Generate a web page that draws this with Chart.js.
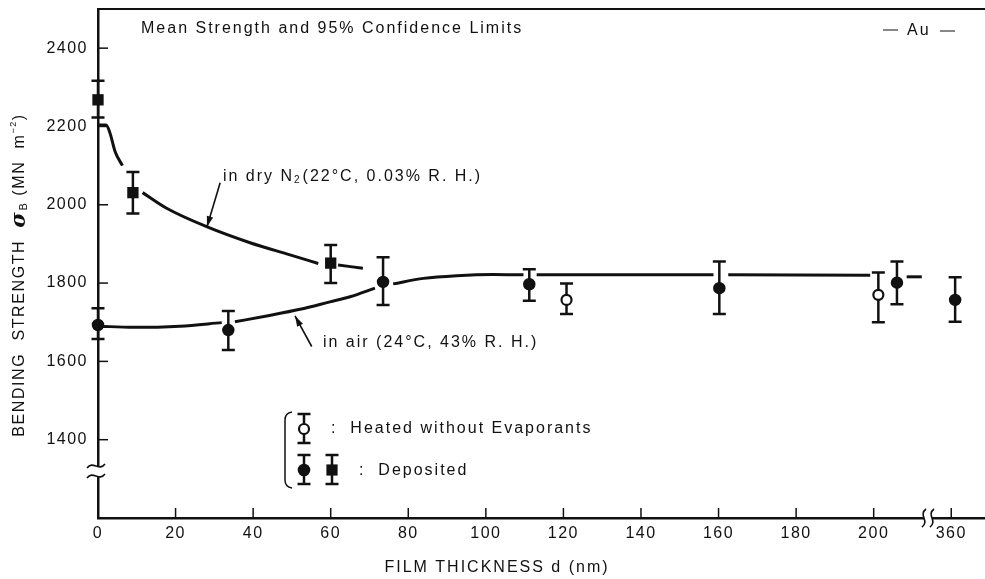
<!DOCTYPE html>
<html>
<head>
<meta charset="utf-8">
<style>
  html, body { margin: 0; padding: 0; background: #fff; }
</style>
<script src="https://cdn.jsdelivr.net/npm/chart.js@4/dist/chart.umd.min.js"></script>
</head>
<body>
<canvas id="chart" width="985" height="579"></canvas>
<script>
// film thickness axis: 0..200 then a break, and 360 sits where 220 would be
const xTickValues = [0, 20, 40, 60, 80, 100, 120, 140, 160, 180, 200, 360];
const yTickValues = [1400, 1600, 1800, 2000, 2200, 2400];

// deposited, in dry N2 (squares)
const n2X = [0, 9, 60];
const n2Y = [2268, 2031, 1851];
const n2Lo = [2223, 1978, 1800];
const n2Hi = [2317, 2084, 1897];

// deposited, in air (filled circles)
const airX = [0, 33.6, 73.5, 111.2, 160.2, 206, 361];
const airY = [1693, 1680, 1803, 1797, 1787, 1801, 1757];
const airLo = [1657, 1629, 1744, 1755, 1721, 1746, 1701];
const airHi = [1736, 1729, 1866, 1835, 1855, 1855, 1815];

// heated without evaporants (open circles)
const heatX = [120.8, 201.2];
const heatY = [1757, 1770];
const heatLo = [1721, 1700];
const heatHi = [1799, 1827];

// hand drawn trend curves, one list per drawn piece
const n2CurveX = [[0, 2.1, 3.1, 4.4, 6.3], [11.5, 17.7, 28.0, 39.2, 49.5, 56.8], [61.9, 68.3]];
const n2CurveY = [[2204, 2204, 2183, 2136, 2100], [2031, 1991, 1944, 1903, 1872, 1850], [1846, 1838]];
const airCurveX = [[0, 9.0, 21.1, 31.9], [35.3, 43.5, 52.1, 59.8, 65.0, 71.4], [76.1, 83.9, 92.5, 101.9, 109.7], [113.1, 158.7], [162.5, 199.1], [208.5, 212.4]];
const airCurveY = [[1690, 1687, 1690, 1699], [1701, 1716, 1733, 1752, 1765, 1787], [1798, 1812, 1819, 1822, 1821], [1821, 1821], [1821, 1820], [1816, 1816]];

// label arrows: [tailX, tailY, headX, headY]
const n2Arrow = [31.5, 2056, 28.1, 1944];
const airArrow = [55.1, 1638, 50.8, 1716];

const INK = '#111';
const FONT = '"Liberation Sans", Arial, sans-serif';

function pos(x) { return x > 300 ? x - 140 : x; }

function pts(xs, ys) { return xs.map((x, i) => ({ x: pos(x), y: ys[i] })); }

const datasets = [];
n2CurveX.forEach((xs, i) => datasets.push({
    type: 'line', data: pts(xs, n2CurveY[i]), borderColor: INK, borderWidth: 3,
    pointRadius: 0, cubicInterpolationMode: 'monotone', fill: false, clip: false
}));
airCurveX.forEach((xs, i) => datasets.push({
    type: 'line', data: pts(xs, airCurveY[i]), borderColor: INK, borderWidth: 3,
    pointRadius: 0, cubicInterpolationMode: 'monotone', fill: false, clip: false
}));
datasets.push({ label: 'n2', data: pts(n2X, n2Y), pointStyle: 'rect', pointRadius: 8, backgroundColor: INK, borderColor: INK, borderWidth: 0, clip: false, lo: n2Lo, hi: n2Hi });
datasets.push({ label: 'air', data: pts(airX, airY), pointStyle: 'circle', pointRadius: 5.5, backgroundColor: INK, borderColor: INK, borderWidth: 1.5, clip: false, lo: airLo, hi: airHi });
datasets.push({ label: 'heat', data: pts(heatX, heatY), pointStyle: 'circle', pointRadius: 5, backgroundColor: '#fff', borderColor: INK, borderWidth: 2.2, clip: false, lo: heatLo, hi: heatHi });

function errorBar(ctx, x, y1, y2, cap) {
    ctx.beginPath();
    ctx.moveTo(x, y1); ctx.lineTo(x, y2);
    ctx.moveTo(x - cap, y1); ctx.lineTo(x + cap, y1);
    ctx.moveTo(x - cap, y2); ctx.lineTo(x + cap, y2);
    ctx.stroke();
}

function arrow(ctx, x1, y1, x2, y2) {
    ctx.beginPath(); ctx.moveTo(x1, y1); ctx.lineTo(x2, y2); ctx.stroke();
    const a = Math.atan2(y2 - y1, x2 - x1), L = 11, w = 0.3;
    ctx.beginPath();
    ctx.moveTo(x2, y2);
    ctx.lineTo(x2 - L * Math.cos(a - w), y2 - L * Math.sin(a - w));
    ctx.lineTo(x2 - L * Math.cos(a + w), y2 - L * Math.sin(a + w));
    ctx.closePath(); ctx.fill();
}

const paper = {
    id: 'paper',
    beforeDraw(chart) {
        chart.ctx.letterSpacing = '1.5px';
    },
    beforeDatasetsDraw(chart) {
        const { ctx, scales: { x, y } } = chart;
        ctx.save();
        ctx.strokeStyle = INK; ctx.lineWidth = 2.5;
        chart.data.datasets.forEach(ds => {
            if (!ds.lo) return;
            ds.data.forEach((p, i) => {
                errorBar(ctx, x.getPixelForValue(p.x), y.getPixelForValue(ds.hi[i]), y.getPixelForValue(ds.lo[i]), 6.5);
            });
        });
        ctx.restore();
    },
    afterDraw(chart) {
        const { ctx, chartArea: a, scales: { x, y } } = chart;
        ctx.save();
        ctx.strokeStyle = INK; ctx.fillStyle = INK;

        // top frame line
        ctx.lineWidth = 2;
        ctx.beginPath(); ctx.moveTo(a.left, a.top); ctx.lineTo(a.right, a.top); ctx.stroke();

        // inward ticks
        ctx.lineWidth = 1.5;
        xTickValues.forEach(v => {
            if (v === 0) return;
            const px = x.getPixelForValue(pos(v));
            ctx.beginPath(); ctx.moveTo(px, a.bottom); ctx.lineTo(px, a.bottom - 10); ctx.stroke();
        });
        yTickValues.forEach(v => {
            const py = y.getPixelForValue(v);
            ctx.beginPath(); ctx.moveTo(a.left, py); ctx.lineTo(a.left + 10, py); ctx.stroke();
        });

        // y axis break
        const by = y.getPixelForValue(1320);
        ctx.fillStyle = '#fff';
        ctx.fillRect(a.left - 3, by - 5, 6, 10);
        ctx.fillStyle = INK;
        ctx.lineWidth = 1.6;
        [-5, 5].forEach(d => {
            ctx.beginPath();
            ctx.moveTo(a.left - 11, by + d + 2);
            ctx.bezierCurveTo(a.left - 5, by + d - 6, a.left + 1, by + d + 6, a.left + 7, by + d - 2);
            ctx.stroke();
        });

        // x axis break
        const bx = x.getPixelForValue(214);
        ctx.fillStyle = '#fff';
        ctx.fillRect(bx - 4, a.bottom - 3, 8, 6);
        ctx.fillStyle = INK;
        [-4, 4].forEach(d => {
            ctx.beginPath();
            ctx.moveTo(bx + d + 2, a.bottom - 9);
            ctx.bezierCurveTo(bx + d - 6, a.bottom - 3, bx + d + 6, a.bottom + 3, bx + d - 2, a.bottom + 9);
            ctx.stroke();
        });

        // label arrows
        ctx.lineWidth = 1.6;
        [n2Arrow, airArrow].forEach(r => arrow(ctx,
            x.getPixelForValue(r[0]), y.getPixelForValue(r[1]),
            x.getPixelForValue(r[2]), y.getPixelForValue(r[3])));

        // texts
        ctx.textBaseline = 'middle';
        ctx.textAlign = 'left';
        ctx.font = '16px ' + FONT;
        ctx.letterSpacing = '2px';
        ctx.fillText('Mean Strength and 95% Confidence Limits', a.left + 43, a.top + 20);
        ctx.fillText('Au', 907, 31);
        ctx.lineWidth = 1;
        ctx.beginPath(); ctx.moveTo(883, 30); ctx.lineTo(898, 30); ctx.moveTo(940, 31); ctx.lineTo(955, 31); ctx.stroke();

        // in dry N2 label with subscript
        let tx = x.getPixelForValue(32.2), ty = y.getPixelForValue(2073);
        ctx.fillText('in dry N', tx, ty);
        tx += ctx.measureText('in dry N').width;
        ctx.font = '10px ' + FONT;
        ctx.fillText('2', tx, ty + 4);
        tx += ctx.measureText('2').width + 1;
        ctx.font = '16px ' + FONT;
        ctx.fillText('(22°C, 0.03% R. H.)', tx, ty);

        ctx.fillText('in air (24°C, 43% R. H.)', x.getPixelForValue(58), y.getPixelForValue(1647));

        // legend box
        ctx.lineWidth = 1.5;
        ctx.beginPath();
        ctx.moveTo(292, 412); ctx.quadraticCurveTo(285, 413, 285, 420);
        ctx.lineTo(285, 480); ctx.quadraticCurveTo(285, 487, 292, 488);
        ctx.stroke();
        ctx.lineWidth = 2.5;
        errorBar(ctx, 304, 414, 443, 6.5);
        errorBar(ctx, 304, 455, 484, 6.5);
        errorBar(ctx, 332, 455, 484, 6.5);
        ctx.fillStyle = '#fff'; ctx.lineWidth = 2.2;
        ctx.beginPath(); ctx.arc(304, 429, 5, 0, Math.PI * 2); ctx.fill(); ctx.stroke();
        ctx.fillStyle = INK;
        ctx.beginPath(); ctx.arc(304, 470, 6.3, 0, Math.PI * 2); ctx.fill();
        ctx.fillRect(332 - 5.6, 470 - 5.6, 11.2, 11.2);
        ctx.fillText(':  Heated without Evaporants', 331, 429);
        ctx.fillText(':  Deposited', 359, 471);

        // axis titles
        ctx.textAlign = 'center';
        ctx.font = '16px ' + FONT;
        ctx.fillText('FILM THICKNESS d (nm)', 497, 568);

        ctx.translate(20, 275);
        ctx.rotate(-Math.PI / 2);
        ctx.textAlign = 'left';
        ctx.letterSpacing = '1.6px';
        const parts = [
            { t: 'BENDING  STRENGTH  ', f: '16px ' + FONT, dy: 0 },
            { t: 'σ', f: 'italic bold 21px "DejaVu Serif", serif', dy: 0 },
            { t: 'B', f: '11px ' + FONT, dy: 4 },
            { t: ' (MN  m', f: '16px ' + FONT, dy: 0 },
            { t: '−2', f: '9px ' + FONT, dy: -6 },
            { t: ')', f: '16px ' + FONT, dy: 0 }
        ];
        let total = 0;
        parts.forEach(p => { ctx.font = p.f; p.w = ctx.measureText(p.t).width; total += p.w; });
        let cx = -total / 2;
        parts.forEach(p => { ctx.font = p.f; ctx.fillText(p.t, cx, p.dy); cx += p.w; });
        ctx.restore();
    }
};

new Chart(document.getElementById('chart'), {
    type: 'scatter',
    data: { datasets },
    options: {
        responsive: false,
        animation: false,
        layout: { autoPadding: false, padding: { top: 9, right: 0, left: 0, bottom: 0 } },
        plugins: { legend: { display: false }, tooltip: { enabled: false } },
        scales: {
            x: {
                type: 'linear', min: 0, max: 228.7,
                afterFit: s => { s.height = 61; s.paddingLeft = 0; s.paddingRight = 0; },
                afterBuildTicks: s => { s.ticks = xTickValues.map(v => ({ value: pos(v) })); },
                grid: { display: false, drawTicks: false },
                border: { display: true, color: INK, width: 2.5 },
                ticks: {
                    padding: 6, color: INK, maxRotation: 0, autoSkip: false,
                    font: { family: FONT, size: 16 },
                    callback: v => String(v > 210 ? v + 140 : v)
                }
            },
            y: {
                type: 'linear', min: 1200, max: 2500,
                afterFit: s => { s.width = 98; s.paddingTop = 0; s.paddingBottom = 0; },
                afterBuildTicks: s => { s.ticks = yTickValues.map(v => ({ value: v })); },
                grid: { display: false, drawTicks: false },
                border: { display: true, color: INK, width: 2.5 },
                ticks: {
                    padding: 10, color: INK, autoSkip: false,
                    font: { family: FONT, size: 16 },
                    callback: v => String(v)
                }
            }
        }
    },
    plugins: [paper]
});
</script>
</body>
</html>
